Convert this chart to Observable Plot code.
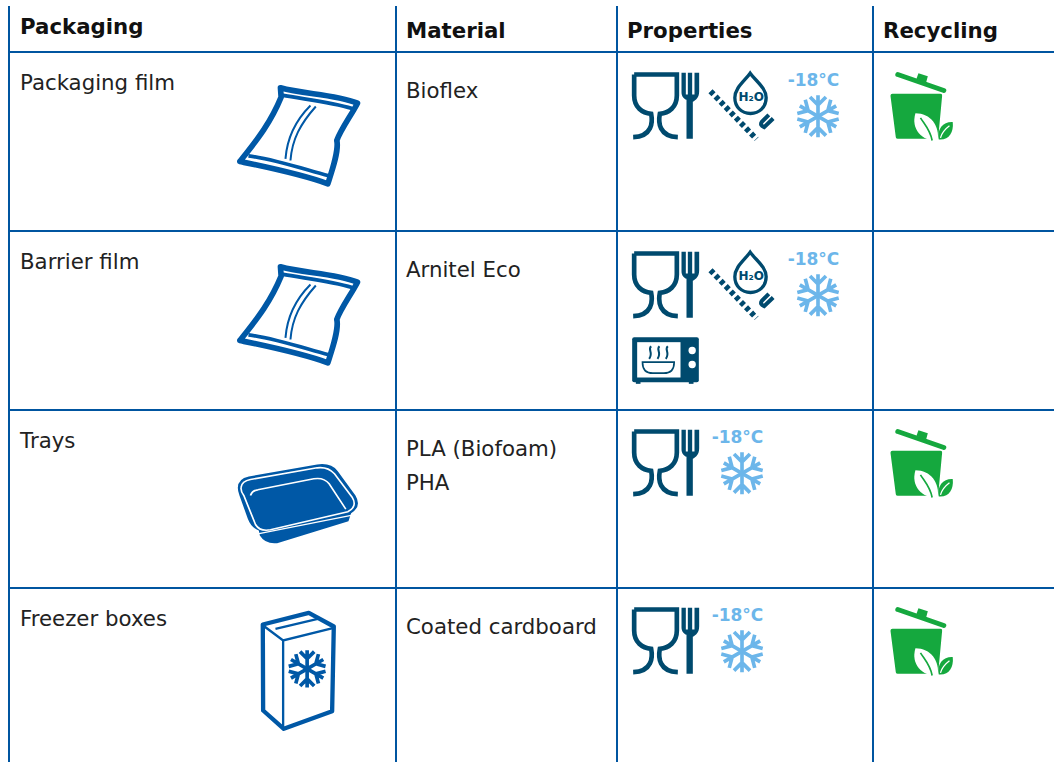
<!DOCTYPE html>
<html><head><meta charset="utf-8">
<script src="https://cdn.jsdelivr.net/npm/d3@7"></script>
<script src="https://cdn.jsdelivr.net/npm/@observablehq/plot@0.6"></script>
<style>html,body{margin:0;padding:0;background:#fff}svg{display:block}</style>
</head><body><div id="chart"></div>
<script>
// ---- table content ----
const headers = ["Packaging", "Material", "Properties", "Recycling"];
const packaging = ["Packaging film", "Barrier film", "Trays", "Freezer boxes"];
const materials = [["Bioflex"], ["Arnitel Eco"], ["PLA (Biofoam)", "PHA"], ["Coated cardboard"]];
const packagingIcon = ["bag", "bag", "tray", "box"];
const properties = [
  ["food", "water", "frozen"],
  ["food", "water", "frozen", "microwave"],
  ["food", "frozen"],
  ["food", "frozen"]
];
const recyclable = [true, false, true, true];
const frozenLabel = "-18°C";
const waterLabel = "H₂O";
// ---- table grid ----
const columnEdges = [9, 396, 617, 873];
const rowEdges = [52, 231, 410, 588];
const iconRowTops = [52, 231, 409, 587];
const tableTop = 6, tableBottom = 762, tableRight = 1054;

const BLUE = "#0058a6", DARK = "#004a6e", LIGHT = "#6cb6ea", GREEN = "#15a83e", RULE = "#0055a0";
const uri = (vb, body) => "data:image/svg+xml," + encodeURIComponent(
  `<svg xmlns="http://www.w3.org/2000/svg" viewBox="${vb.join(" ")}">${body}</svg>`);

const flake = (cx, cy, r, color, sw) => [0,60,120,180,240,300].map(a =>
  `<g transform="rotate(${a} ${cx} ${cy})"><path d="M${cx},${cy}V${cy-r}M${cx-r*.38},${cy-r*.92}L${cx},${cy-r*.54}L${cx+r*.38},${cy-r*.92}" fill="none" stroke="${color}" stroke-width="${sw}"/></g>`).join("");

const icons = {
  food: {vb:[25,25,220,220], dx:48, dy:53, body:`
    <path d="M41,42H169V105C169,140 145,158 118,160C113,185 115,228 172,230M41,42V105C41,140 65,158 92,160C97,185 95,228 38,230" fill="none" stroke="${DARK}" stroke-width="14"/>
    <path d="M183,37h13v65h6V37h13v65h7V37h14v55C236,112 226,118 217,124V235H198V118C190,114 183,108 183,95Z" fill="${DARK}"/>`},
  water: {vb:[260,25,215,220], dx:125.5, dy:53, body:`
    <path d="M389,38C372,62 343,82 343,112C343,140 364,159 390,159C416,159 437,140 437,112C437,82 406,62 389,38Z" fill="none" stroke="${DARK}" stroke-width="10"/>
    <path d="M270,92L408,236" fill="none" stroke="${DARK}" stroke-width="17" stroke-dasharray="13 9"/>
    <path d="M445,163L424,184Q417,194 431,200L458,174" fill="none" stroke="${DARK}" stroke-width="12"/>`},
  flake: {vb:[525,95,135,145], dx:200.5, dy:63.8, body:flake(592.5,167.5,63,LIGHT,11)},
  microwave: {vb:[25,25,220,160], dx:48, dy:129, body:`
    <rect x="35" y="35" width="200" height="135" rx="6" fill="${DARK}"/>
    <rect x="46" y="168" width="14" height="7" fill="${DARK}"/><rect x="205" y="168" width="14" height="7" fill="${DARK}"/>
    <rect x="50" y="50" width="130" height="106" fill="#fff"/>
    <circle cx="215" cy="75" r="11" fill="#fff"/><circle cx="215" cy="117" r="11" fill="#fff"/>
    <path d="M92,62C80,72 100,80 86,100M117,62C105,72 125,80 111,100M142,62C130,72 150,80 136,100" fill="none" stroke="${DARK}" stroke-width="6"/>
    <path d="M66,110H161Q161,143 130,143H97Q66,143 66,110Z" fill="none" stroke="${DARK}" stroke-width="5"/>`},
  bag: {vb:[40,35,390,320], dx:289.3, dy:83, body:`
    <path d="M180,52C250,72 340,70 411,98C395,130 360,178 349,210C356,240 335,300 322,340C240,310 140,290 58,273C95,225 145,170 182,80Z" fill="none" stroke="${BLUE}" stroke-width="17" stroke-linejoin="round"/>
    <path d="M184,74C255,87 330,94 395,114M84,256C160,266 240,293 325,316" fill="none" stroke="${BLUE}" stroke-width="11"/>
    <path d="M270,105C225,150 200,200 195,265M286,108C240,160 215,205 210,270" fill="none" stroke="${BLUE}" stroke-width="6"/>`},
  tray: {vb:[40,30,390,260], dx:289.3, dy:94.3, body:`
    <path d="M52,112Q52,85 85,78L290,42Q332,36 352,62L405,135Q425,168 392,188L384,212L170,278Q135,282 118,255L115,240Q92,232 82,205L57,135Q52,122 52,112Z" fill="${BLUE}"/>
    <path d="M62,110Q64,92 90,87L290,52Q322,48 342,70L395,140Q412,168 382,184L150,238Q118,244 105,222L70,135Q60,122 62,110Z" fill="none" stroke="#fff" stroke-width="5"/>
    <path d="M90,135Q95,120 112,118L280,85Q310,80 326,100L376,176" fill="none" stroke="#fff" stroke-width="5"/>
    <path d="M112,250L392,195" fill="none" stroke="#fff" stroke-width="4"/>`},
  box: {vb:[55,25,240,370], dx:289.3, dy:83, body:`
    <path d="M67,72L205,37L280,78L275,332L130,385L68,330Z" fill="none" stroke="${BLUE}" stroke-width="13" stroke-linejoin="round"/>
    <path d="M72,78L128,120L280,82M128,120V380M105,85L232,55" fill="none" stroke="${BLUE}" stroke-width="7"/>
    ${flake(200,205,56,BLUE,11)}`},
  bin: {vb:[20,25,205,220], dx:47.8, dy:53, body:`
    <path d="M52,42L190,90" stroke="${GREEN}" stroke-width="15" stroke-linecap="round"/>
    <path d="M108,55L114,38L142,47L136,70Z" fill="${GREEN}"/>
    <path d="M36,100H180Q186,100 185,106L173,235H52Q47,235 46,230L30,106Q30,100 36,100Z" fill="${GREEN}"/>
    <path d="M105,158C150,158 178,195 172,242C125,242 90,205 105,158Z" fill="#fff"/>
    <path d="M120,172C135,195 150,210 155,240" fill="none" stroke="${GREEN}" stroke-width="5"/>
    <path d="M217,185C190,183 168,205 175,237C205,240 220,215 217,185Z" fill="${GREEN}"/>
    <path d="M180,232C185,215 195,205 207,196" fill="none" stroke="#fff" stroke-width="4"/>`}
};

// ---- rows ----
const rowsIdx = d3.range(packaging.length);
const headerRows = headers.map((h, i) => ({text: h, x: i === 0 ? 19.5 : columnEdges[i] + 9.5, y: i === 0 ? 33 : 37}));
const nameRows = packaging.map((t, i) => ({text: t, x: 19.5, y: rowEdges[i] + 37}));
const materialRows = materials.flatMap((lines, i) => lines.map((t, j) => ({text: t, x: columnEdges[1] + 9.5, y: rowEdges[i] + 45 + j * 34})));

const placed = [];
const put = (name, col, row, shift = 0) => placed.push({name, x: columnEdges[col] + icons[name].dx + shift, y: iconRowTops[row] + icons[name].dy});
const frozenText = [], waterText = [];
rowsIdx.forEach(r => {
  put(packagingIcon[r], 0, r);
  const hasWater = properties[r].includes("water");
  properties[r].forEach(p => {
    if (p === "frozen") {
      const shift = hasWater ? 0 : -76;
      put("flake", 2, r, shift);
      frozenText.push({x: columnEdges[2] + 196 + shift, y: iconRowTops[r] + 28});
    } else {
      put(p, 2, r);
      if (p === "water") waterText.push({x: columnEdges[2] + 133.7, y: iconRowTops[r] + 45});
    }
  });
  if (recyclable[r]) put("bin", 3, r);
});

const iconMarks = Object.entries(icons).map(([name, ic]) =>
  Plot.image(placed.filter(d => d.name === name), {
    x: "x", y: "y", width: ic.vb[2] / 3, height: ic.vb[3] / 3,
    src: () => uri(ic.vb, ic.body)
  }));

const font = "DejaVu Sans";
const chart = Plot.plot({
  width: 1054, height: 762, margin: 0,
  style: {background: "#fff", fontFamily: font},
  x: {domain: [0, 1054], range: [0, 1054], axis: null},
  y: {domain: [0, 762], range: [0, 762], axis: null},
  marks: [
    Plot.ruleX(columnEdges, {y1: tableTop, y2: tableBottom, stroke: RULE, strokeWidth: 2, dx: -0.5}),
    Plot.ruleY(rowEdges, {x1: columnEdges[0], x2: tableRight, stroke: RULE, strokeWidth: 2, dy: -0.5}),
    Plot.text(headerRows, {x: "x", y: "y", text: "text", textAnchor: "start", lineAnchor: "bottom", fontSize: 21.3, fontWeight: "bold", fontFamily: font, fill: "#111"}),
    Plot.text([...nameRows, ...materialRows], {x: "x", y: "y", text: "text", textAnchor: "start", lineAnchor: "bottom", fontSize: 21.3, fontFamily: font, fill: "#222"}),
    ...iconMarks,
    Plot.text(frozenText, {x: "x", y: "y", text: () => frozenLabel, fontSize: 17, fontWeight: "bold", fontFamily: font, fill: LIGHT}),
    Plot.text(waterText, {x: "x", y: "y", text: () => waterLabel, fontSize: 12, fontWeight: "bold", fontFamily: font, fill: DARK})
  ]
});
document.getElementById("chart").append(chart);
</script></body></html>
